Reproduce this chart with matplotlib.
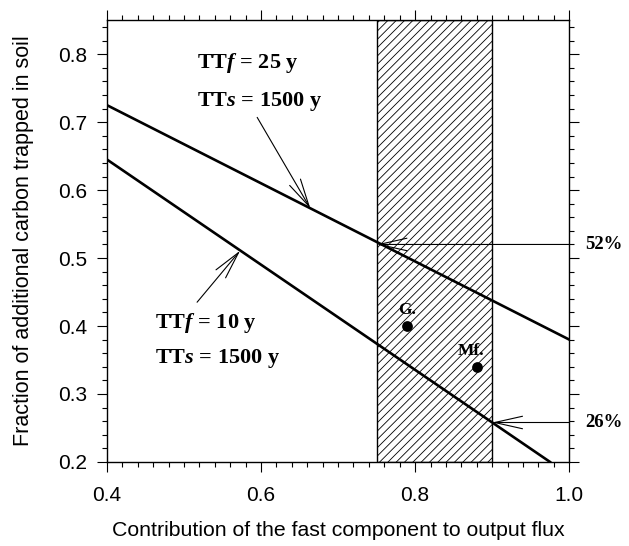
import matplotlib
matplotlib.use("Agg")
import matplotlib.pyplot as plt
from matplotlib.ticker import MultipleLocator

# data
x_fast25 = [0.40, 1.00]
y_fast25 = [0.725, 0.38]
x_fast10 = [0.40, 0.975]
y_fast10 = [0.645, 0.20]
band = [0.75, 0.90]
sites = ["G.", "Mf."]
site_x = [0.79, 0.88]
site_y = [0.40, 0.34]
pct_y = [0.52, 0.258]
pct_x = [0.75, 0.90]
pct_labels = ["52%", "26%"]

plt.rcParams["font.family"] = "Liberation Sans"
plt.rcParams["mathtext.fontset"] = "custom"
plt.rcParams["mathtext.rm"] = "Liberation Serif:bold"
plt.rcParams["mathtext.it"] = "Liberation Serif:italic:bold"
plt.rcParams["mathtext.bf"] = "Liberation Serif:bold"
plt.rcParams["hatch.linewidth"] = 0.6

fig = plt.figure(figsize=(6.29, 5.46), dpi=100)
ax = fig.add_axes([0.170, 0.154, 0.735, 0.809])

# hatched band
ax.axvspan(band[0], band[1], facecolor="white", edgecolor="black",
           hatch="////", linewidth=1.0, zorder=1)

ax.plot(x_fast25, y_fast25, color="black", lw=1.9, zorder=3)
ax.plot(x_fast10, y_fast10, color="black", lw=1.9, zorder=3)

# sites
ax.scatter(site_x, site_y, s=45, color="black", zorder=4)
serif = dict(family="Liberation Serif", weight="bold", fontsize=12.5)
ax.text(site_x[0], site_y[0] + 0.012, sites[0], ha="center", va="bottom", **serif)
ax.text(site_x[1] - 0.007, site_y[1] + 0.012, sites[1], ha="center", va="bottom", **serif)

# labels for the curves
tfs = 16
lab = dict(va="center", fontsize=tfs, family="Liberation Serif", weight="bold")
ax.text(0.517, 0.787, r"TT$f$ = 25 y", **lab)
ax.text(0.517, 0.730, r"TT$s$ = 1500 y", **lab)
ax.text(0.462, 0.404, r"TT$f$ = 10 y", **lab)
ax.text(0.462, 0.352, r"TT$s$ = 1500 y", **lab)

arrow = dict(arrowstyle="->,head_length=2.0,head_width=0.45", color="black", lw=0.8,
             shrinkA=0, shrinkB=0)
ax.annotate("", xy=(0.664, 0.573), xytext=(0.595, 0.707), arrowprops=arrow, zorder=5)
ax.annotate("", xy=(0.573, 0.511), xytext=(0.517, 0.435), arrowprops=arrow, zorder=5)

# percentage arrows
for xp, yp, txt in zip(pct_x, pct_y, pct_labels):
    ax.annotate("", xy=(xp, yp), xytext=(1.0, yp), arrowprops=arrow, zorder=5,
                annotation_clip=False)
    ax.text(1.021, yp, txt, ha="left", va="center", family="Liberation Serif",
            weight="bold", fontsize=13.5, clip_on=False)

ax.set_xlim(0.4, 1.0)
ax.set_ylim(0.2, 0.85)
ax.set_xticks([0.4, 0.6, 0.8, 1.0])
ax.set_xticklabels(["0.4", "0.6", "0.8", "1.0"])
ax.set_yticks([0.2, 0.3, 0.4, 0.5, 0.6, 0.7, 0.8])
ax.xaxis.set_minor_locator(MultipleLocator(0.02))
ax.yaxis.set_minor_locator(MultipleLocator(0.02))
ax.tick_params(which="both", direction="out", top=True, right=True,
               labelsize=15, width=0.8)
ax.tick_params(which="major", length=7)
ax.tick_params(which="minor", length=3.5)
ax.tick_params(axis="y", pad=7.5)
ax.tick_params(axis="x", pad=10)
for s in ax.spines.values():
    s.set_linewidth(1.0)

ax.set_xlabel("Contribution of the fast component to output flux", fontsize=15.3, labelpad=12)
ax.set_ylabel("Fraction of additional carbon trapped in soil", fontsize=15.5, labelpad=17)

fig.savefig("out.png", dpi=100)
